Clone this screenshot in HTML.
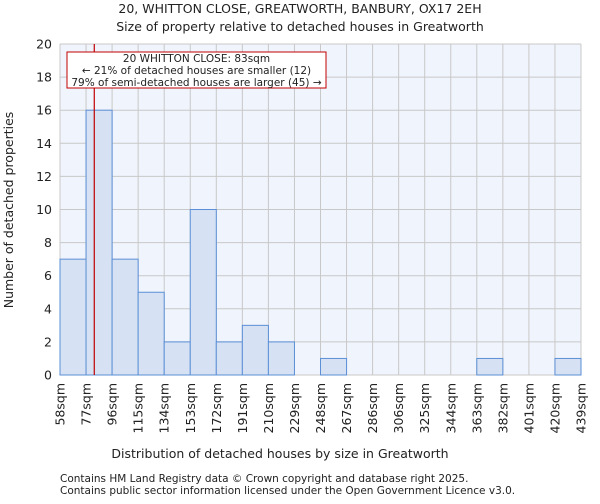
<!DOCTYPE html>
<html><head><meta charset="utf-8"><style>
body{margin:0;background:#fff;font-family:"DejaVu Sans","Liberation Sans",sans-serif}
svg text{font-family:"DejaVu Sans","Liberation Sans",sans-serif;fill:#222}
</style></head><body>
<svg id="c" width="600" height="500">
<text x="300" y="13" text-anchor="middle" font-size="12.5">20, WHITTON CLOSE, GREATWORTH, BANBURY, OX17 2EH</text>
<text x="300" y="31" text-anchor="middle" font-size="12.5">Size of property relative to detached houses in Greatworth</text>
<rect x="60" y="44" width="521" height="331" fill="#f0f4fc"/>
<g id="grid"></g><g id="bars"></g><g id="axes"></g>
<text x="280" y="458" text-anchor="middle" font-size="12.5">Distribution of detached houses by size in Greatworth</text>
<text transform="translate(13,210) rotate(-90)" text-anchor="middle" font-size="12.5">Number of detached properties</text>
<text x="60" y="482" font-size="10.5">Contains HM Land Registry data © Crown copyright and database right 2025.</text>
<text x="60" y="494" font-size="10.5">Contains public sector information licensed under the Open Government Licence v3.0.</text>
</svg>
<script>
const binLabels=["58sqm","77sqm","96sqm","115sqm","134sqm","153sqm","172sqm","191sqm","210sqm","229sqm","248sqm","267sqm","286sqm","306sqm","325sqm","344sqm","363sqm","382sqm","401sqm","420sqm","439sqm"];
const binEdges=[58,77,96,115,134,153,172,191,210,229,248,267,286,306,325,344,363,382,401,420,439];
const counts=[7,16,7,5,2,10,2,3,2,0,1,0,0,0,0,0,1,0,0,1];
const yTicks=[0,2,4,6,8,10,12,14,16,18,20];
const propertySize=83;
const X0=60,X1=581,Y0=375,Y1=44;
const NS="http://www.w3.org/2000/svg";
const nb=binEdges.length-1;
function xi(i){return X0+(X1-X0)*i/nb;}
function xv(v){let i=0;while(i<nb-1&&v>binEdges[i+1])i++;return xi(i)+(v-binEdges[i])/(binEdges[i+1]-binEdges[i])*(xi(i+1)-xi(i));}
function y(v){return Y0-(Y0-Y1)*v/20;}
function mk(t,a,p){const e=document.createElementNS(NS,t);for(const k in a)e.setAttribute(k,a[k]);p.appendChild(e);return e;}
const g=document.getElementById('grid'),b=document.getElementById('bars'),ax=document.getElementById('axes');
yTicks.forEach(t=>{
const l=mk('line',{x1:X0,x2:X1,y1:y(t),y2:y(t),stroke:'#c8c8c8'},g);


const tx=mk('text',{x:X0-8,y:y(t)+4.5,'text-anchor':'end','font-size':'12.5'},ax);
tx.textContent=t;


});
binLabels.forEach((lab,i)=>{
const l=mk('line',{x1:xi(i),x2:xi(i),y1:Y1,y2:Y0,stroke:'#c8c8c8'},g);


const tx=mk('text',{transform:`translate(${xi(i)+4.5},${Y0+8}) rotate(-90)`,'text-anchor':'end','font-size':'12.5'},ax);
tx.textContent=lab;


});
counts.forEach((c,i)=>{
if(c<=0)return;
const r=mk('rect',{x:xi(i),y:y(c),width:xi(i+1)-xi(i),height:Y0-y(c),fill:'#d6e1f3',stroke:'#5b8fd6','stroke-width':1},b);


});
const px=xv(propertySize);
const pl=mk('line',{x1:px,x2:px,y1:Y1,y2:Y0,stroke:'#c00000','stroke-width':1.2},ax);


const box=mk('rect',{x:67,y:52,width:259,height:36,fill:'#fff',stroke:'#c00000'},ax);


["20 WHITTON CLOSE: 83sqm","← 21% of detached houses are smaller (12)","79% of semi-detached houses are larger (45) →"].forEach((s,i)=>{
const t=mk('text',{x:196.5,y:62+i*12,'text-anchor':'middle','font-size':'10.5'},ax);
t.textContent=s;


});
</script>
</body></html>
